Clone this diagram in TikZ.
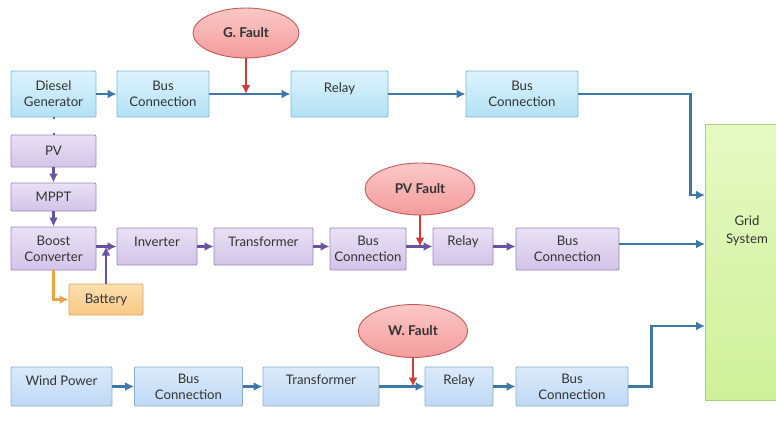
\documentclass[tikz,border=0pt]{standalone}
\usepackage{fontspec}
\setmainfont{Lato}
\usetikzlibrary{arrows.meta,shapes.geometric}
\definecolor{txt}{HTML}{333333}
\definecolor{bluel}{HTML}{3C79A8}
\definecolor{purl}{HTML}{6B52A3}
\definecolor{redl}{HTML}{D23A3A}
\definecolor{orgl}{HTML}{EEA24A}
\definecolor{cyanD}{HTML}{7FB9D6}
\definecolor{cyanT}{HTML}{DDF3FC}
\definecolor{cyanB}{HTML}{B3E1F5}
\definecolor{purB}{HTML}{9C86BF}
\definecolor{purT}{HTML}{E9E1F4}
\definecolor{purBo}{HTML}{D2C4E8}
\definecolor{orgB}{HTML}{DDA25C}
\definecolor{orgT}{HTML}{FCDFAE}
\definecolor{orgBo}{HTML}{F9C885}
\definecolor{windB}{HTML}{8AAFD6}
\definecolor{windT}{HTML}{DCEAFA}
\definecolor{windBo}{HTML}{BFD8F4}
\definecolor{faultB}{HTML}{C45A5A}
\definecolor{faultT}{HTML}{FBC8C8}
\definecolor{faultBo}{HTML}{F49B9B}
\definecolor{gridB}{HTML}{A8CC78}
\definecolor{gridT}{HTML}{E6F9C4}
\definecolor{gridBo}{HTML}{CFF09A}
\tikzset{
  box/.style={draw, rectangle, rounded corners=1pt, align=center, inner sep=0pt, text=txt, font=\fontsize{13.2}{16}\selectfont, line width=0.9pt},
  cyanbox/.style={box, draw=cyanD, top color=cyanT, bottom color=cyanB},
  purbox/.style={box, draw=purB, top color=purT, bottom color=purBo},
  orgbox/.style={box, draw=orgB, top color=orgT, bottom color=orgBo},
  windbox/.style={box, draw=windB, top color=windT, bottom color=windBo},
  lift/.style={text height=9.6pt, text depth={9.6pt+2*#1-9.4pt}},
  fault/.style={ellipse, draw=faultB, line width=0.9pt, top color=faultT, bottom color=faultBo, text=txt, font=\fontsize{13.5}{16}\selectfont\bfseries, inner sep=0pt},
  barrow/.style={draw=bluel, line width=2.4pt, -{Latex[length=9pt,width=9pt]}},
  parrow/.style={draw=purl, line width=2.4pt, -{Latex[length=9pt,width=9pt]}},
  rarrow/.style={draw=redl, line width=2.4pt, -{Latex[length=9pt,width=9pt]}},
  oarrow/.style={draw=orgl, line width=2.4pt, -{Latex[length=9pt,width=9pt]}},
}
\begin{document}
\begin{tikzpicture}[x=1pt,y=-1pt]
\useasboundingbox[fill=white] (0,0) rectangle (776,445);
% Grid
\node[draw=gridB, line width=0.9pt, top color=gridT, bottom color=gridBo, minimum width=90, minimum height=276, inner sep=0pt] (grid) at (750,262) {};
\node[text=txt, font=\fontsize{13.2}{18}\selectfont, align=center] (gridlbl) at (747,231) {Grid\\System};
\coordinate (g1) at (705,195);
\coordinate (g2) at (705,244);
\coordinate (g3) at (705,326);
% top row
\node[cyanbox, minimum width=85, minimum height=46] (dg) at (53.5,94) {Diesel\\Generator};
\node[cyanbox, minimum width=92, minimum height=46] (bc1) at (163,94) {Bus\\Connection};
\node[cyanbox, lift=6pt, minimum width=97, minimum height=46] (rl1) at (339.5,94) {Relay};
\node[cyanbox, minimum width=112, minimum height=46] (bc2) at (522,94) {Bus\\Connection};
\node[fault, minimum width=106, minimum height=50] (gf) at (246,33) {G. Fault};
% PV column
\node[purbox, minimum width=85, minimum height=32] (pv) at (53.5,151) {PV};
\node[purbox, minimum width=85, minimum height=28] (mppt) at (53.5,197) {MPPT};
\node[purbox, minimum width=85, minimum height=43] (boost) at (53.5,248.5) {Boost\\Converter};
\node[orgbox, minimum width=74, minimum height=31] (bat) at (106,299.5) {Battery};
\node[purbox, lift=4.5pt, minimum width=80, minimum height=37] (inv) at (157,246.5) {Inverter};
\node[purbox, lift=4.5pt, minimum width=99, minimum height=37] (tr) at (263.5,246.5) {Transformer};
\node[purbox, minimum width=76, minimum height=42] (bcp1) at (368,249) {Bus\\Connection};
\node[purbox, lift=5.5pt, minimum width=60, minimum height=37] (rlp) at (463,246.5) {Relay};
\node[purbox, minimum width=103, minimum height=42] (bcp2) at (567.5,249) {Bus\\Connection};
\node[fault, minimum width=110, minimum height=52] (pvf) at (420,189) {PV Fault};
% Wind row
\node[windbox, lift=5.5pt, minimum width=101, minimum height=39] (wp) at (61.5,386.5) {Wind Power};
\node[windbox, minimum width=108, minimum height=39] (wbc1) at (188.5,386.5) {Bus\\Connection};
\node[windbox, lift=7pt, minimum width=116, minimum height=39] (wtr) at (321,386.5) {Transformer};
\node[windbox, lift=6.5pt, minimum width=68, minimum height=39] (wrl) at (459,386.5) {Relay};
\node[windbox, minimum width=112, minimum height=39] (wbc2) at (572,386.5) {Bus\\Connection};
\node[fault, minimum width=109, minimum height=53] (wf) at (413,331) {W. Fault};
% top connectors
\draw[draw=bluel, line width=2pt, dash pattern=on 2pt off 14pt] (dg.south) -- (pv.north);
\draw[barrow] (dg.east) -- (bc1.west);
\draw[barrow] (bc1.east) -- (rl1.west);
\draw[rarrow] (gf.south) -- (gf.south |- bc1.east);
\draw[barrow] (rl1.east) -- (bc2.west);
\draw[barrow] (bc2.east) -- ++(112,0) |- (g1);
% PV connectors
\draw[parrow] (pv.south) -- (mppt.north);
\draw[parrow] (mppt.south) -- (boost.north);
\draw[parrow] (boost.east |- inv.west) -- (inv.west);
\draw[parrow] (bat.north) -- (bat.north |- inv.west);
\draw[oarrow] (boost.south) |- (bat.west);
\draw[parrow] (inv.east) -- (tr.west);
\draw[parrow] (tr.east) -- (tr.east -| bcp1.west);
\draw[parrow] (bcp1.east |- rlp.west) -- (rlp.west);
\draw[rarrow] (pvf.south) -- (pvf.south |- rlp.west);
\draw[parrow] (rlp.east) -- (rlp.east -| bcp2.west);
\draw[barrow] (bcp2.east |- g2) -- (g2);
% Wind connectors
\draw[barrow] (wp.east) -- (wbc1.west);
\draw[barrow] (wbc1.east) -- (wtr.west);
\draw[barrow] (wtr.east) -- (wrl.west);
\draw[rarrow] (wf.south) -- (wf.south |- wrl.west);
\draw[barrow] (wrl.east) -- (wbc2.west);
\draw[barrow] (wbc2.east) -- ++(23,0) |- (g3);
\end{tikzpicture}
\end{document}
